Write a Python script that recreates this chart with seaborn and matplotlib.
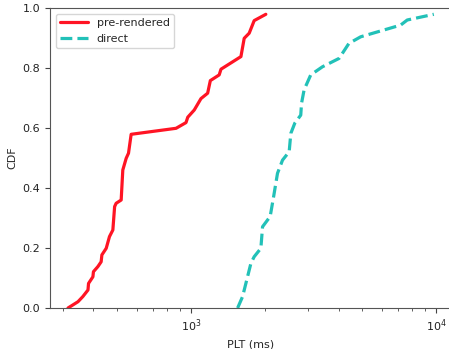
import numpy as np
import pandas as pd
import matplotlib
matplotlib.use("Agg")
import matplotlib.pyplot as plt
from matplotlib.ticker import LogLocator, NullFormatter
import seaborn as sns

# Page load time (ms) and cumulative fraction for each loading mode
prerendered_plt = [315, 346, 362, 380, 382, 398, 400, 417, 430, 433, 451, 465,
                   480, 488, 495, 519, 527, 544, 556, 570, 869, 954, 970, 1031,
                   1098, 1169, 1199, 1303, 1325, 1598, 1648, 1727, 1810, 2019]
prerendered_cdf = [0.000, 0.021, 0.038, 0.060, 0.082, 0.104, 0.121, 0.138,
                   0.154, 0.177, 0.199, 0.238, 0.260, 0.338, 0.349, 0.360,
                   0.460, 0.499, 0.516, 0.579, 0.599, 0.618, 0.636, 0.660,
                   0.698, 0.716, 0.758, 0.777, 0.796, 0.838, 0.899, 0.916,
                   0.958, 0.979]

direct_plt = [1549, 1623, 1755, 1810, 1927, 1958, 2103, 2172, 2253, 2362,
              2514, 2553, 2650, 2803, 2823, 2892, 3078, 3435, 4017, 4406,
              4920, 7160, 7620, 9780]
direct_cdf = [0.000, 0.038, 0.149, 0.171, 0.199, 0.271, 0.305, 0.371, 0.449,
              0.493, 0.521, 0.582, 0.616, 0.643, 0.682, 0.727, 0.777, 0.804,
              0.832, 0.882, 0.904, 0.943, 0.960, 0.979]

series_labels = ["pre-rendered", "direct"]
series_colors = ["#ff1424", "#22c1b8"]

sns.set_style("ticks")
plt.rcParams["font.family"] = ["DejaVu Sans"]
plt.rcParams["font.size"] = 8

fig = plt.figure(figsize=(4.49, 3.49), dpi=100)
ax = fig.add_axes([50 / 449, 41 / 349, 402 / 449, 300 / 349])

df_pre = pd.DataFrame({"plt": prerendered_plt, "cdf": prerendered_cdf})
df_dir = pd.DataFrame({"plt": direct_plt, "cdf": direct_cdf})

sns.lineplot(data=df_pre, x="plt", y="cdf", ax=ax, estimator=None, sort=False,
             color=series_colors[0], linewidth=2.3, label=series_labels[0])
sns.lineplot(data=df_dir, x="plt", y="cdf", ax=ax, estimator=None, sort=False,
             color=series_colors[1], linewidth=2.3, linestyle="--",
             label=series_labels[1])

ax.set_xscale("log")
ax.set_xlim(266, 11600)
ax.set_ylim(0, 1.0)
ax.set_yticks([0.0, 0.2, 0.4, 0.6, 0.8, 1.0])
ax.xaxis.set_minor_locator(LogLocator(base=10, subs=np.arange(2, 10), numticks=20))
ax.xaxis.set_minor_formatter(NullFormatter())
ax.set_xlabel("PLT (ms)", fontsize=8)
ax.set_ylabel("CDF", fontsize=8)
ax.tick_params(which="major", labelsize=8, length=3.5, width=0.8,
               color="#444444", labelcolor="#222222")
ax.tick_params(which="minor", axis="x", length=2, width=0.6, color="#444444")
for side in ["top", "right", "bottom", "left"]:
    ax.spines[side].set_visible(True)
    ax.spines[side].set_color("#555555")
    ax.spines[side].set_linewidth(0.8)

leg = ax.legend(loc="upper left", fontsize=8, frameon=True, handlelength=2.5)
leg.get_frame().set_edgecolor("#cccccc")

fig.savefig("out.png", dpi=100)
